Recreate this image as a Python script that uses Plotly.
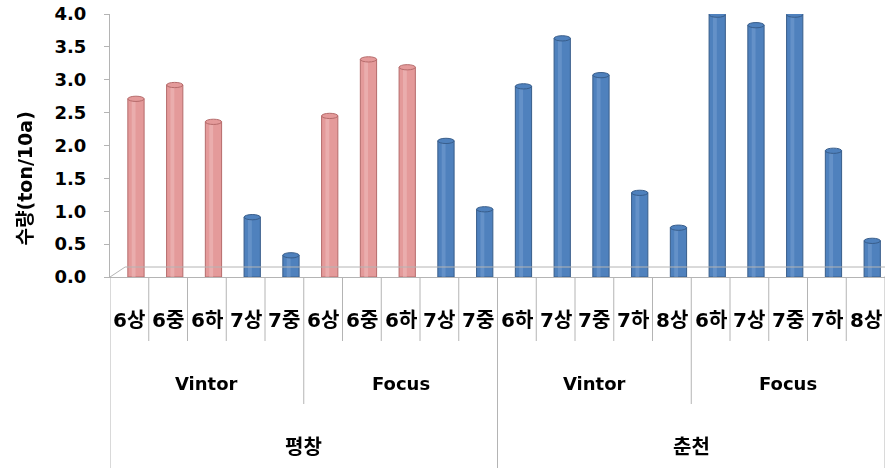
import plotly.graph_objects as go

# ---------------- data ----------------
sites = ["평창", "춘천"]
cultivars = ["Vintor", "Focus"]
stages_pyeongchang = ["6상", "6중", "6하", "7상", "7중"]
stages_chuncheon = ["6하", "7상", "7중", "7하", "8상"]
stage_labels = stages_pyeongchang * 2 + stages_chuncheon * 2
values = [2.71, 2.92, 2.36, 0.91, 0.33,
          2.45, 3.31, 3.19, 2.07, 1.03,
          2.90, 3.63, 3.07, 1.28, 0.75,
          3.99, 3.83, 3.99, 1.92, 0.55]
y_ticks = [0.0, 0.5, 1.0, 1.5, 2.0, 2.5, 3.0, 3.5, 4.0]
y_title = "수량(ton/10a)"

# ---------------- style ----------------
FONT = "DejaVu Sans, Noto Sans CJK KR"
PINK, PINK_EDGE, PINK_HI = "#E49A9A", "#B56B6B", "#F2C4C4"
BLUE, BLUE_EDGE, BLUE_HI = "#4F81BD", "#385D8A", "#7FA6D6"
GRID = "#B4B4B4"

n = len(values)
per_cultivar = len(stages_pyeongchang)
per_site = per_cultivar * len(cultivars)
x = list(range(n))
is_pink = [(i < per_site and stage_labels[i].startswith("6")) for i in x]
fill = [PINK if p else BLUE for p in is_pink]
edge = [PINK_EDGE if p else BLUE_EDGE for p in is_pink]
hi = [PINK_HI if p else BLUE_HI for p in is_pink]

BAR_W = 0.42
BAR_OFF = -0.04

fig = go.Figure()
fig.add_trace(go.Bar(
    x=x, y=values, width=BAR_W, offset=BAR_OFF,
    marker=dict(color=fill, line=dict(color=edge, width=1)),
    hoverinfo="skip", cliponaxis=False,
))
# cylinder highlight
fig.add_trace(go.Bar(
    x=x, y=values, width=0.1, offset=BAR_OFF + 0.1,
    marker=dict(color=hi, line=dict(width=0)), opacity=0.45,
    hoverinfo="skip", cliponaxis=False,
))

shapes = []
# elliptical cylinder tops
for i, v in enumerate(values):
    shapes.append(dict(type="circle", xref="x", yref="y",
                       x0=i + BAR_OFF, x1=i + BAR_OFF + BAR_W,
                       y0=v - 0.04, y1=v + 0.04,
                       fillcolor=fill[i], line=dict(color=edge[i], width=1),
                       layer="above"))

# category separators (multi-level)
def vline(xb, length):
    return dict(type="line", xref="x", yref="paper", ysizemode="pixel",
                yanchor=0, x0=xb, x1=xb, y0=0, y1=-length,
                line=dict(color=GRID, width=1))

for k in range(n + 1):
    xb = k - 0.5
    if k % per_site == 0:
        shapes.append(vline(xb, 191))
    elif k % per_cultivar == 0:
        shapes.append(vline(xb, 127))
    else:
        shapes.append(vline(xb, 64))

# 3D floor outline
def seg(xa, ya, xb, yb):
    return dict(type="line", xref="x", yref="paper", ysizemode="pixel",
                yanchor=0, x0=xa, x1=xb, y0=ya, y1=yb,
                line=dict(color=GRID, width=1))

shapes.append(seg(-0.5, 0, -0.5 + 0.39, 10))
shapes.append(seg(-0.5 + 0.39, 10, n - 0.5 + 0.08, 10))
shapes.append(seg(n - 0.5, 0, n - 0.5 + 0.08, 10))

annotations = []
stage_font = dict(family=FONT, size=20, color="#000000", weight="bold")
cv_font = dict(family=FONT, size=18, color="#000000", weight="bold")
site_font = dict(family=FONT, size=20, color="#000000", weight="bold")
for i, lab in enumerate(stage_labels):
    annotations.append(dict(x=i, y=0, xref="x", yref="paper", text=lab,
                            showarrow=False, yanchor="middle", yshift=-43,
                            font=stage_font))
for s_idx, site in enumerate(sites):
    for c_idx, cv in enumerate(cultivars):
        start = s_idx * per_site + c_idx * per_cultivar
        annotations.append(dict(x=start + (per_cultivar - 1) / 2, y=0,
                                xref="x", yref="paper", text=cv,
                                showarrow=False, yanchor="middle", yshift=-106,
                                font=cv_font))
    start = s_idx * per_site
    annotations.append(dict(x=start + (per_site - 1) / 2, y=0,
                            xref="x", yref="paper", text=site,
                            showarrow=False, yanchor="middle", yshift=-170,
                            font=site_font))
# y-axis title
annotations.append(dict(x=0, y=0.375, xref="paper", yref="paper", text=y_title,
                        textangle=-90, showarrow=False, xanchor="center",
                        yanchor="middle", xshift=-85,
                        font=dict(family=FONT, size=19, color="#000000", weight="bold")))

fig.update_layout(
    width=890, height=468,
    margin=dict(l=110, r=5, t=14, b=191, autoexpand=False),
    paper_bgcolor="white", plot_bgcolor="white",
    showlegend=False, barmode="overlay",
    shapes=shapes, annotations=annotations,
    font=dict(family=FONT, size=18, color="#000000"),
)
fig.update_xaxes(range=[-0.5, n - 0.5], showgrid=False, zeroline=False,
                 showticklabels=False, ticks="", showline=True,
                 linecolor=GRID, linewidth=1)
fig.update_yaxes(range=[0, 4.0], tickvals=y_ticks,
                 ticktext=[f"{t:.1f}" for t in y_ticks],
                 showgrid=False, zeroline=False, showline=True,
                 linecolor=GRID, linewidth=1, ticks="outside", ticklen=5,
                 tickcolor=GRID, ticklabelstandoff=14,
                 tickfont=dict(family=FONT, size=18, color="#000000", weight="bold"),
                 automargin=False)

fig.write_html("out.html", config={"displayModeBar": False},
               post_script="document.body.style.margin='0px';document.body.style.overflow='hidden';")
